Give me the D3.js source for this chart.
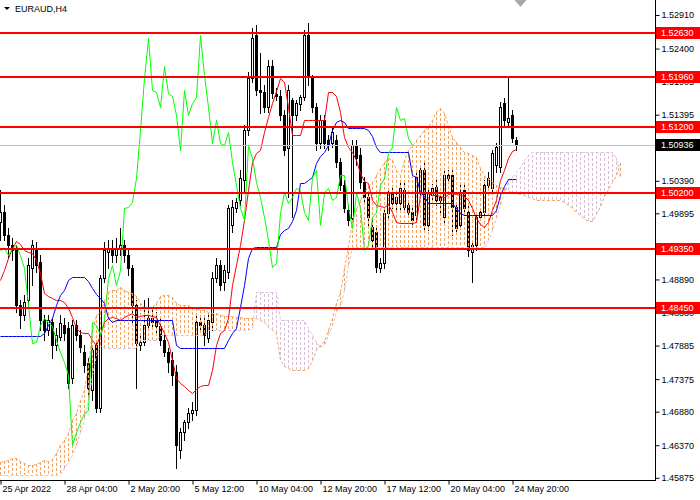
<!DOCTYPE html>
<html>
<head>
<meta charset="utf-8">
<title>EURAUD,H4</title>
<script src="https://cdn.jsdelivr.net/npm/d3@7"></script>
<style>
  body { margin: 0; background: #fff; }
  svg { display: block; font-family: "Liberation Sans", Arial, sans-serif; }
</style>
</head>
<body>
<div id="container"></div>
<script>
/* CONSTANTS AND GLOBALS */
const width = 700,
  height = 500,
  plotRight = 655,
  plotBottom = 480

/* DATA */
const symbol = "EURAUD,H4"

// H4 candles, first bar = 25 Apr 12:00
const opens = [
  1.4977,1.4992,1.4957,1.4942,1.4934,1.4850,1.4835,1.4858,1.4907,1.4934,
  1.4916,1.4828,1.4812,1.4825,1.4790,1.4802,1.4820,1.4815,1.4739,1.4820,
  1.4805,1.4779,1.4762,1.4721,1.4790,1.4694,1.4891,1.4931,1.4937,1.4926,
  1.4937,1.4942,1.4926,1.4907,1.4850,1.4790,1.4794,1.4820,1.4831,1.4828,
  1.4819,1.4797,1.4779,1.4767,1.4749,1.4630,1.4657,1.4673,1.4686,1.4691,
  1.4825,1.4820,1.4800,1.4825,1.4891,1.4911,1.4885,1.4901,1.4972,1.4998,
  1.5010,1.5040,1.5116,1.5195,1.5261,1.5177,1.5174,1.5151,1.5214,1.5171,
  1.5168,1.5139,1.5089,1.5162,1.5139,1.5156,1.5167,1.5261,1.5195,1.5151,
  1.5097,1.5132,1.5101,1.5097,1.5101,1.5068,1.5033,1.4995,1.4983,1.5094,
  1.5078,1.5037,1.5015,1.4969,1.4961,1.4907,1.4914,1.4990,1.5022,1.5005,
  1.5005,1.4999,1.5002,1.4992,1.4987,1.5022,1.5056,1.4972,1.5018,1.5030,
  1.5010,1.4984,1.5043,1.5048,1.4999,1.4972,1.5025,1.4992,1.4931,1.4942,
  1.4984,1.4992,1.5033,1.5028,1.5063,1.5060,1.5157,1.5128,1.5139,1.5101
]
const highs = [
  1.5025,1.5002,1.4967,1.4952,1.4942,1.4858,1.4866,1.4922,1.4949,1.4946,
  1.4926,1.4835,1.4835,1.4831,1.4815,1.4835,1.4831,1.4825,1.4828,1.4828,
  1.4812,1.4790,1.4770,1.4790,1.4797,1.4896,1.4946,1.4949,1.4949,1.4952,
  1.4967,1.4949,1.4934,1.4911,1.4858,1.4805,1.4858,1.4861,1.4843,1.4840,
  1.4831,1.4805,1.4785,1.4779,1.4759,1.4663,1.4676,1.4694,1.4703,1.4835,
  1.4835,1.4831,1.4835,1.4901,1.4922,1.4919,1.4911,1.5002,1.5010,1.5013,
  1.5056,1.5124,1.5205,1.5271,1.5276,1.5233,1.5185,1.5223,1.5223,1.5180,
  1.5177,1.5147,1.5185,1.5165,1.5162,1.5170,1.5268,1.5279,1.5200,1.5157,
  1.5139,1.5139,1.5109,1.5121,1.5109,1.5074,1.5040,1.5002,1.5101,1.5101,
  1.5089,1.5045,1.5022,1.4980,1.4972,1.4922,1.4995,1.5028,1.5033,1.5025,
  1.5037,1.5037,1.5010,1.4998,1.5053,1.5063,1.5068,1.5028,1.5034,1.5040,
  1.5022,1.5059,1.5056,1.5056,1.5005,1.5036,1.5033,1.5002,1.4949,1.4992,
  1.4998,1.5040,1.5053,1.5086,1.5097,1.5159,1.5165,1.5197,1.5147,1.5106
]
const lows = [
  1.4949,1.4949,1.4922,1.4919,1.4840,1.4815,1.4828,1.4850,1.4881,1.4901,
  1.4812,1.4797,1.4805,1.4770,1.4782,1.4797,1.4797,1.4724,1.4732,1.4797,
  1.4779,1.4749,1.4714,1.4706,1.4688,1.4688,1.4885,1.4907,1.4916,1.4916,
  1.4926,1.4916,1.4896,1.4825,1.4724,1.4782,1.4790,1.4812,1.4815,1.4805,
  1.4790,1.4773,1.4749,1.4729,1.4603,1.4618,1.4645,1.4663,1.4676,1.4683,
  1.4809,1.4790,1.4794,1.4812,1.4885,1.4873,1.4873,1.4891,1.4961,1.4992,
  1.5002,1.5022,1.5109,1.5189,1.5170,1.5142,1.5144,1.5144,1.5165,1.5162,
  1.5132,1.5078,1.5015,1.4984,1.5132,1.5147,1.5162,1.5185,1.5144,1.5086,
  1.5089,1.5089,1.5086,1.5091,1.5060,1.5025,1.4992,1.4972,1.4977,1.5063,
  1.5028,1.5007,1.4972,1.4937,1.4901,1.4901,1.4907,1.4983,1.4998,1.4995,
  1.4995,1.4992,1.4987,1.4972,1.4980,1.5015,1.4964,1.4964,1.5010,1.5002,
  1.4992,1.4977,1.5037,1.4957,1.4960,1.4967,1.4987,1.4925,1.4885,1.4934,
  1.4980,1.4987,1.5025,1.5022,1.5053,1.5053,1.5124,1.5124,1.5098,1.5086
]
const closes = [
  1.4992,1.4957,1.4942,1.4934,1.4850,1.4835,1.4855,1.4911,1.4942,1.4911,
  1.4828,1.4812,1.4828,1.4790,1.4805,1.4823,1.4808,1.4732,1.4820,1.4805,
  1.4787,1.4759,1.4724,1.4782,1.4694,1.4891,1.4934,1.4937,1.4926,1.4937,
  1.4942,1.4926,1.4907,1.4850,1.4793,1.4794,1.4820,1.4831,1.4825,1.4819,
  1.4797,1.4779,1.4764,1.4744,1.4638,1.4657,1.4673,1.4686,1.4691,1.4825,
  1.4820,1.4805,1.4828,1.4891,1.4911,1.4881,1.4904,1.4998,1.4999,1.5007,
  1.5043,1.5116,1.5195,1.5256,1.5177,1.5174,1.5151,1.5214,1.5173,1.5168,
  1.5139,1.5086,1.5177,1.5139,1.5157,1.5167,1.5261,1.5200,1.5151,1.5097,
  1.5132,1.5097,1.5094,1.5113,1.5068,1.5033,1.4998,1.4980,1.5094,1.5074,
  1.5037,1.5015,1.4984,1.4949,1.4908,1.4914,1.4990,1.5022,1.5005,1.5015,
  1.5028,1.5025,1.4992,1.4980,1.5045,1.5056,1.4972,1.5022,1.5028,1.5010,
  1.5015,1.5048,1.5048,1.4999,1.4967,1.5022,1.4998,1.4934,1.4942,1.4984,
  1.4992,1.5033,1.5043,1.5081,1.5091,1.5151,1.5132,1.5135,1.5104,1.50936
]

// Ichimoku lines
const tenkan = [
  1.4888,1.4904,1.4922,1.4937,1.4948,1.4943,1.4934,1.4931,1.4929,1.4919,
  1.4899,1.4869,1.4864,1.4861,1.4858,1.4858,1.4855,1.4846,1.4832,1.4815,
  1.4809,1.4808,1.4808,1.4797,1.4790,1.4805,1.4825,1.4831,1.4832,1.4831,
  1.4828,1.4832,1.4835,1.4838,1.4832,1.4834,1.4835,1.4835,1.4834,1.4832,
  1.4820,1.4808,1.4794,1.4767,1.4739,1.4732,1.4727,1.4721,1.4717,1.4723,
  1.4727,1.4729,1.4729,1.4752,1.4790,1.4808,1.4812,1.4831,1.4881,1.4911,
  1.4942,1.4980,1.5025,1.5068,1.5081,1.5086,1.5113,1.5136,1.5157,1.5176,
  1.5195,1.5189,1.5151,1.5109,1.5109,1.5109,1.5132,1.5132,1.5132,1.5132,
  1.5132,1.5132,1.5174,1.5174,1.5168,1.5144,1.5106,1.5091,1.5083,1.5071,
  1.5051,1.5039,1.5036,1.5010,1.5002,1.5001,1.4999,1.5004,1.4992,1.4977,
  1.4975,1.4975,1.4975,1.4975,1.4977,1.5018,1.5021,1.5021,1.5018,1.5018,
  1.5016,1.5015,1.5019,1.5021,1.5019,1.5018,1.5016,1.5010,1.4998,1.4983,
  1.4974,1.4969,1.4977,1.4995,1.5010,1.5040,1.5056,1.5074,1.5085,1.5088
]
const kijun = [
  1.4803,1.4803,1.4803,1.4803,1.4803,1.4803,1.4803,1.4803,1.4803,1.4803,
  1.4803,1.4808,1.4820,1.4831,1.4850,1.4866,1.4873,1.4888,1.4893,1.4893,
  1.4893,1.4893,1.4887,1.4876,1.4867,1.4861,1.4853,1.4831,1.4825,1.4828,
  1.4828,1.4828,1.4828,1.4828,1.4828,1.4828,1.4828,1.4828,1.4828,1.4828,
  1.4828,1.4828,1.4828,1.4828,1.4790,1.4785,1.4785,1.4785,1.4785,1.4785,
  1.4785,1.4785,1.4785,1.4785,1.4785,1.4785,1.4785,1.4797,1.4808,1.4815,
  1.4847,1.4881,1.4922,1.4937,1.4939,1.4939,1.4939,1.4939,1.4939,1.4939,
  1.4958,1.4964,1.4967,1.4978,1.4995,1.5036,1.5036,1.5040,1.5045,1.5066,
  1.5077,1.5083,1.5094,1.5116,1.5129,1.5132,1.5129,1.5119,1.5119,1.5119,
  1.5119,1.5119,1.5116,1.5107,1.5091,1.5083,1.5083,1.5083,1.5083,1.5083,
  1.5083,1.5083,1.5083,1.5048,1.5045,1.5022,1.5016,1.5005,1.5005,1.5005,
  1.5005,1.5005,1.5005,1.5005,1.4998,1.4990,1.4987,1.4987,1.4987,1.4987,
  1.4987,1.4987,1.4987,1.4987,1.4995,1.5018,1.5031,1.5042,1.5042,1.5042
]
// senkou spans run 26 bars past the last candle
const spanA = [
  1.4612,1.4613,1.4615,1.4618,1.4618,1.4613,1.4610,1.4607,1.4607,1.4609,
  1.4612,1.4615,1.4613,1.4616,1.4625,1.4638,1.4645,1.4656,1.4676,1.4686,
  1.4706,1.4721,1.4759,1.4812,1.4835,1.4840,1.4858,1.4870,1.4873,1.4873,
  1.4878,1.4873,1.4870,1.4869,1.4864,1.4853,1.4847,1.4846,1.4847,1.4853,
  1.4864,1.4866,1.4866,1.4863,1.4853,1.4850,1.4850,1.4850,1.4847,1.4846,
  1.4843,1.4843,1.4840,1.4838,1.4838,1.4835,1.4834,1.4834,1.4834,1.4832,
  1.4832,1.4831,1.4831,1.4831,1.4831,1.4828,1.4825,1.4817,1.4812,1.4808,
  1.4767,1.4758,1.4755,1.4752,1.4752,1.4752,1.4752,1.4755,1.4767,1.4782,
  1.4790,1.4796,1.4812,1.4831,1.4853,1.4870,1.4907,1.4939,1.4980,1.4996,
  1.5010,1.5022,1.5031,1.5037,1.5048,1.5059,1.5068,1.5074,1.5071,1.5056,
  1.5048,1.5071,1.5086,1.5094,1.5101,1.5109,1.5116,1.5121,1.5132,1.5144,
  1.5150,1.5142,1.5123,1.5106,1.5098,1.5091,1.5083,1.5081,1.5078,1.5075,
  1.5059,1.5047,1.5043,1.5037,1.5033,1.5030,1.5028,1.5025,1.5021,1.5021,
  1.5019,1.5018,1.5015,1.5013,1.5010,1.5010,1.5010,1.5010,1.5010,1.5010,
  1.5010,1.5007,1.5002,1.4998,1.4992,1.4987,1.4983,1.4978,1.4978,1.4989,
  1.5001,1.5016,1.5027,1.5037,1.5048,1.5066
]
const spanB = [
  1.4591,1.4591,1.4591,1.4591,1.4591,1.4591,1.4591,1.4591,1.4591,1.4591,
  1.4591,1.4591,1.4591,1.4591,1.4591,1.4594,1.4603,1.4612,1.4622,1.4638,
  1.4657,1.4676,1.4706,1.4744,1.4774,1.4790,1.4785,1.4785,1.4785,1.4785,
  1.4785,1.4785,1.4785,1.4785,1.4785,1.4797,1.4797,1.4797,1.4797,1.4797,
  1.4805,1.4805,1.4805,1.4805,1.4805,1.4805,1.4805,1.4805,1.4805,1.4805,
  1.4805,1.4805,1.4812,1.4812,1.4812,1.4812,1.4812,1.4812,1.4812,1.4812,
  1.4812,1.4812,1.4812,1.4815,1.4870,1.4870,1.4870,1.4870,1.4870,1.4870,
  1.4828,1.4828,1.4828,1.4828,1.4828,1.4828,1.4828,1.4815,1.4805,1.4794,
  1.4787,1.4790,1.4805,1.4820,1.4840,1.4850,1.4873,1.4911,1.4939,1.4939,
  1.4939,1.4939,1.4939,1.4939,1.4939,1.4939,1.4939,1.4939,1.4939,1.4939,
  1.4939,1.4939,1.4939,1.4939,1.4939,1.4939,1.4939,1.4939,1.4939,1.4939,
  1.4939,1.4939,1.4939,1.4939,1.4939,1.4939,1.4939,1.4939,1.4939,1.4939,
  1.4939,1.4939,1.4949,1.4964,1.4983,1.5002,1.5022,1.5037,1.5045,1.5053,
  1.5060,1.5071,1.5078,1.5083,1.5083,1.5083,1.5083,1.5083,1.5083,1.5083,
  1.5083,1.5083,1.5083,1.5083,1.5083,1.5083,1.5083,1.5083,1.5083,1.5083,
  1.5083,1.5083,1.5083,1.5083,1.5074,1.5043
]
const chikouShift = 26

// axis labels
const timeLabels = ["25 Apr 2022", "28 Apr 04:00", "2 May 20:00", "5 May 12:00",
  "10 May 04:00", "12 May 20:00", "17 May 12:00", "20 May 04:00", "24 May 20:00"]
const timeLabelBars = [0, 16, 32, 48, 64, 80, 96, 112, 128]
const priceTicks = [1.52910, 1.52400, 1.51905, 1.51395, 1.50900, 1.50390, 1.49895,
  1.49385, 1.48890, 1.48380, 1.47885, 1.47375, 1.46880, 1.46370, 1.45875]
const levels = [1.52630, 1.51960, 1.51200, 1.50200, 1.49350, 1.48450]
const lastPrice = 1.50936

/* SCALES */
// 4 px per H4 bar
const xScale = d3.scaleLinear()
  .domain([0, 163.75])
  .range([0, plotRight])

const yScale = d3.scaleLinear()
  .domain([1.45875, 1.52910])
  .range([477.8, 15])

const px = i => Math.round(xScale(i)) + 0.5
const py = v => Math.round(yScale(v)) + 0.5

/* HTML ELEMENTS */
const svg = d3.select("#container")
  .append("svg")
  .attr("width", width)
  .attr("height", height)

svg.append("clipPath")
  .attr("id", "plot-clip")
  .append("rect")
  .attr("width", plotRight)
  .attr("height", plotBottom)

const plot = svg.append("g")
  .attr("clip-path", "url(#plot-clip)")
  .attr("shape-rendering", "crispEdges")

// candles
const bars = opens.map((o, i) => ({ i, o, h: highs[i], l: lows[i], c: closes[i] }))

plot.selectAll(".wick")
  .data(bars)
  .join("line")
  .attr("class", "wick")
  .attr("x1", d => px(d.i))
  .attr("x2", d => px(d.i))
  .attr("y1", d => Math.round(yScale(d.h)))
  .attr("y2", d => Math.round(yScale(d.l)) + 1)
  .attr("stroke", "#000")

plot.selectAll(".body")
  .data(bars)
  .join("rect")
  .attr("class", "body")
  .attr("x", d => px(d.i) - 1)
  .attr("y", d => py(Math.max(d.o, d.c)))
  .attr("width", 2)
  .attr("height", d => Math.max(1, py(Math.min(d.o, d.c)) - py(Math.max(d.o, d.c))))
  .attr("fill", d => d.c >= d.o ? "#fff" : "#000")
  .attr("stroke", "#000")

// kumo, drawn as dotted histogram between the spans
const kumo = spanA.map((a, i) => ({ i, a, b: spanB[i] }))

plot.selectAll(".kumo")
  .data(kumo)
  .join("line")
  .attr("class", "kumo")
  .attr("x1", d => px(d.i))
  .attr("x2", d => px(d.i))
  .attr("y1", d => yScale(d.a))
  .attr("y2", d => yScale(d.b))
  .attr("stroke", d => d.a >= d.b ? "#f4a460" : "#d8bfd8")
  .attr("stroke-dasharray", "3,2")

const lineGen = d3.line()
  .x(d => px(d.i))
  .y(d => py(d.v))

const series = [
  { values: spanA, color: "#f4a460", dash: "3,2", offset: 0 },
  { values: spanB, color: "#d8bfd8", dash: "3,2", offset: 0 },
  { values: tenkan, color: "#ff0000", dash: null, offset: 0 },
  { values: kijun, color: "#0000ff", dash: null, offset: 0 },
  { values: closes.slice(chikouShift), color: "#00ff00", dash: null, offset: 0 }
]

plot.selectAll(".ichimoku")
  .data(series)
  .join("path")
  .attr("class", "ichimoku")
  .attr("d", s => lineGen(s.values.map((v, i) => ({ i: i + s.offset, v }))))
  .attr("fill", "none")
  .attr("stroke", s => s.color)
  .attr("stroke-dasharray", s => s.dash)
  .attr("shape-rendering", "auto")

// current price line
plot.append("line")
  .attr("x1", 0)
  .attr("x2", plotRight)
  .attr("y1", py(lastPrice))
  .attr("y2", py(lastPrice))
  .attr("stroke", "#c0c0c0")

// horizontal levels
plot.selectAll(".level")
  .data(levels)
  .join("line")
  .attr("class", "level")
  .attr("x1", 0)
  .attr("x2", plotRight)
  .attr("y1", d => Math.round(yScale(d)))
  .attr("y2", d => Math.round(yScale(d)))
  .attr("stroke", "#ff0000")
  .attr("stroke-width", 2)

// chart shift marker
svg.append("path")
  .attr("d", `M${px(130) - 6},0 L${px(130) + 6},0 L${px(130)},7 Z`)
  .attr("fill", "#a9a9a9")

/* AXES */
const yAxis = d3.axisRight(yScale)
  .tickValues(priceTicks)
  .tickFormat(d3.format(".5f"))
  .tickSize(4)
  .tickPadding(2)

svg.append("g")
  .attr("transform", `translate(${plotRight + 0.5},0)`)
  .call(yAxis)
  .call(g => g.select(".domain").remove())
  .call(g => g.selectAll("text").attr("font-size", 9).attr("font-family", "Liberation Sans, Arial").attr("fill", "#000"))

const xAxis = d3.axisBottom(xScale)
  .tickValues(timeLabelBars)
  .tickFormat((d, i) => timeLabels[i])
  .tickSize(4)

svg.append("g")
  .attr("transform", `translate(0,${plotBottom + 0.5})`)
  .call(xAxis)
  .call(g => g.select(".domain").remove())
  .call(g => g.selectAll("line").attr("transform", "translate(0.5,0)"))
  .call(g => g.selectAll("text")
    .attr("font-size", 9)
    .attr("font-family", "Liberation Sans, Arial")
    .attr("fill", "#000")
    .attr("text-anchor", "start")
    .attr("x", 2)
    .attr("y", 5))

// frame
svg.append("path")
  .attr("d", `M0,${plotBottom + 0.5} H${plotRight + 0.5} V0`)
  .attr("fill", "none")
  .attr("stroke", "#000")
  .attr("shape-rendering", "crispEdges")

// price labels on the axis
const tags = levels.map(v => ({ v, bg: "#ff0000" }))
  .concat([{ v: lastPrice, bg: "#000" }])

const tag = svg.selectAll(".tag")
  .data(tags)
  .join("g")
  .attr("class", "tag")
  .attr("transform", d => `translate(${plotRight + 1},${Math.round(yScale(d.v))})`)

tag.append("rect")
  .attr("x", 0)
  .attr("y", -6)
  .attr("width", width - plotRight)
  .attr("height", 12)
  .attr("fill", d => d.bg)

tag.append("text")
  .attr("x", 5)
  .attr("dy", "0.35em")
  .attr("font-size", 9)
  .attr("fill", "#fff")
  .text(d => d3.format(".5f")(d.v))

// title
svg.append("path")
  .attr("d", "M4,7 L10,7 L7,10 Z")
  .attr("fill", "#000")

svg.append("text")
  .attr("x", 15)
  .attr("y", 12)
  .attr("font-size", 9)
  .attr("fill", "#000")
  .text(symbol)
</script>
</body>
</html>
